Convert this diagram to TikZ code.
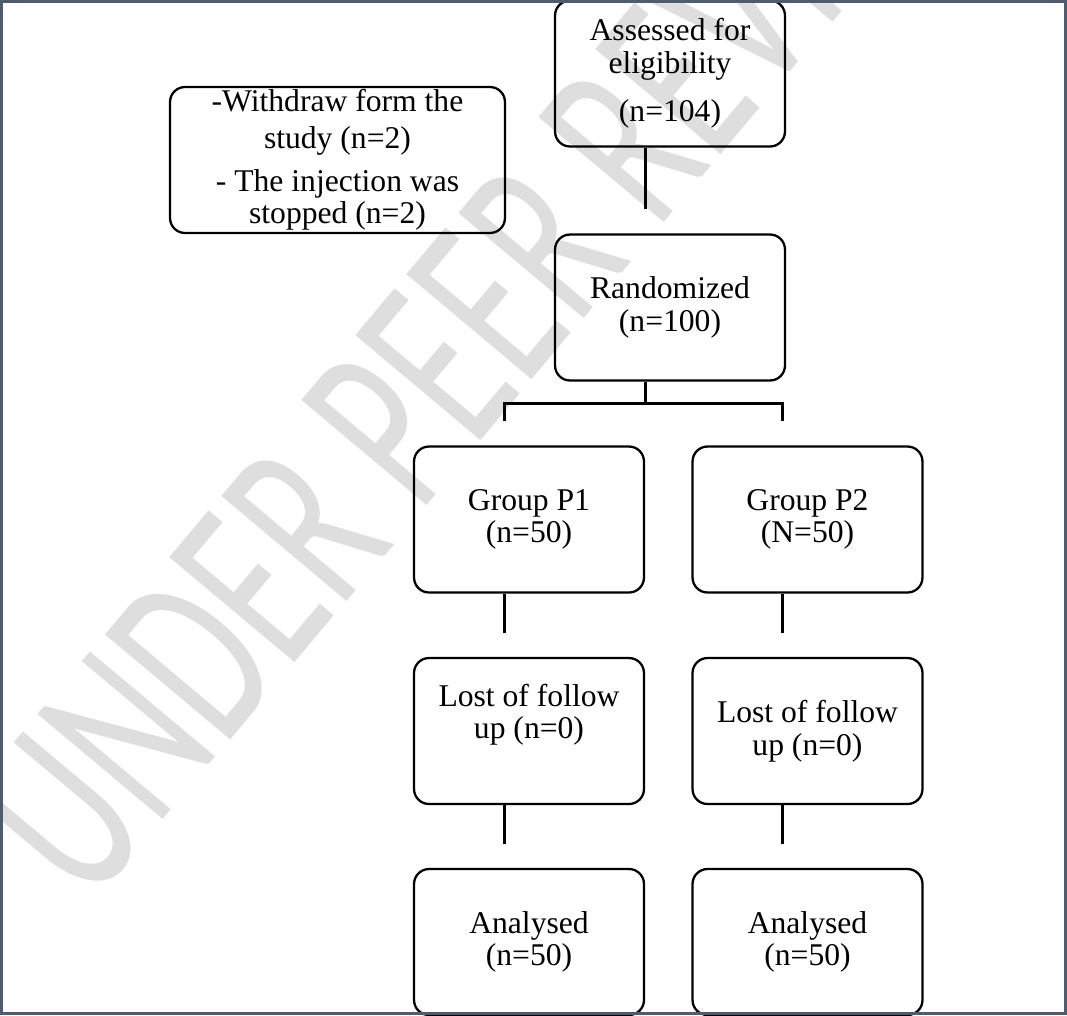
\documentclass[tikz,border=0pt]{standalone}
\usepackage{fontspec}
\setmainfont{Liberation Serif}
\newfontfamily\wmfont{Carlito}
\usepackage{tikz}
\definecolor{framecol}{RGB}{78,92,112}

\begin{document}
\begin{tikzpicture}[x=0.02cm,y=-0.02cm,
 flowbox/.style={draw,line width=1.3pt,rounded corners=0.3cm,minimum width=4.6cm,minimum height=2.92cm,inner sep=0pt,align=center,font=\fontsize{18}{18.5}\selectfont},
 link/.style={line width=1.7pt,shorten >=0.48cm},
 wmark/.style={black!13,font=\wmfont\fontsize{145}{145}\selectfont,anchor=west,rotate=50,xscale=0.64}]
\useasboundingbox (0,0) rectangle (1067,1015);
\begin{scope}
\clip (0,0) rectangle (1067,1015);
\node[wmark] (wm) at (24,860) {UNDER PEER REVIEW};
\node[flowbox] (assess) at (670,73.5) {Assessed for\\ eligibility\\[9pt] (n=104)};
\node[flowbox,minimum width=6.7cm] (withdraw) at (337.5,160)
   {-Withdraw form the\\[2pt] study (n=2)\\[6pt] - The injection was\\ stopped (n=2)};
\node[flowbox] (rand) at (670,307.5) {Randomized\\ (n=100)};
\node[flowbox] (g1) at (529,519.5) {Group P1\\ (n=50)};
\node[flowbox] (g2) at (807.5,519.5) {Group P2\\ (N=50)};
\node[flowbox] (lost1) at (529,731) {Lost of follow\\ up (n=0)\\[4pt] \mbox{}};
\node[flowbox] (lost2) at (807.5,731) {Lost of follow\\ up (n=0)};
\node[flowbox] (ana1) at (529,942) {Analysed\\ (n=50)};
\node[flowbox] (ana2) at (807.5,942) {Analysed\\ (n=50)};
\draw[link] ([xshift=-0.5cm]assess.south) -- ([xshift=-0.5cm]rand.north);
\draw[link,shorten >=0pt] ([xshift=-0.5cm]rand.south) -- ++(0,22) coordinate (split);
\foreach \g in {g1,g2}
   \draw[link] (split) -| ([xshift=-0.5cm]\g.north);
\foreach \a/\b in {g1/lost1,g2/lost2,lost1/ana1,lost2/ana2}
   \draw[link] ([xshift=-0.5cm]\a.south) -- ([xshift=-0.5cm]\b.north);
\end{scope}
\draw[framecol,line width=1.7pt] (1.5,1.5) rectangle (1065.5,1013.5);
\end{tikzpicture}
\end{document}
